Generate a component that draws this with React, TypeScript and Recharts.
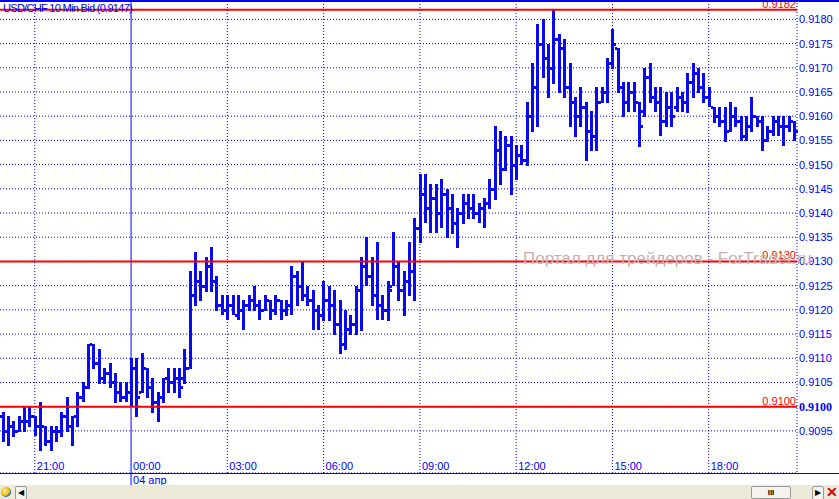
import { ComposedChart, Bar, XAxis, YAxis, CartesianGrid, ReferenceLine } from "recharts";

// USD/CHF 10 min bid bars, 03 Apr 20:00 .. 04 Apr 20:40
const opens = [
  0.9098, 0.9095, 0.9096, 0.9095, 0.9097, 0.9097, 0.9098, 0.9096, 0.9096, 0.9093,
  0.9095, 0.9095, 0.9098, 0.9096, 0.9098, 0.9102, 0.9104, 0.9113, 0.9109, 0.9106,
  0.9107, 0.9105, 0.9103, 0.9102, 0.9103, 0.9108, 0.9103, 0.9108, 0.9104, 0.9101,
  0.9102, 0.9106, 0.9105, 0.9106, 0.9106, 0.9108, 0.9123, 0.9126, 0.9125, 0.9129,
  0.9126, 0.9121, 0.912, 0.9121, 0.9119, 0.912, 0.9121, 0.9122, 0.9121, 0.912,
  0.9122, 0.912, 0.9122, 0.912, 0.9121, 0.9127, 0.9125, 0.9123, 0.9122, 0.912,
  0.9119, 0.9122, 0.9121, 0.9117, 0.9113, 0.9116, 0.9117, 0.9124, 0.9129, 0.9127,
  0.9123, 0.9121, 0.912, 0.9125, 0.9129, 0.9124, 0.9126, 0.9128, 0.9137, 0.9144,
  0.9141, 0.9143, 0.914, 0.9144, 0.9141, 0.9138, 0.914, 0.9142, 0.9141, 0.914,
  0.9141, 0.9142, 0.9145, 0.9153, 0.9149, 0.9154, 0.915, 0.9152, 0.9151, 0.916,
  0.9166, 0.9175, 0.9172, 0.917, 0.9176, 0.9174, 0.9166, 0.9163, 0.916, 0.9162,
  0.9157, 0.9156, 0.9163, 0.9165, 0.9171, 0.9174, 0.9166, 0.9163, 0.9165, 0.9163,
  0.9161, 0.9168, 0.9164, 0.9163, 0.9159, 0.9162, 0.9162, 0.9164, 0.9163, 0.9167,
  0.9169, 0.9166, 0.9164, 0.9162, 0.916, 0.9159, 0.9157, 0.916, 0.9159, 0.9156,
  0.9158, 0.916, 0.9159, 0.9155, 0.9157, 0.9159, 0.9158, 0.9158, 0.9159,
];

const highs = [
  0.9099, 0.9098, 0.9097, 0.9098, 0.91, 0.91, 0.9098, 0.9101, 0.9096, 0.9096,
  0.9096, 0.9099, 0.9102, 0.9098, 0.9103, 0.9105, 0.9113, 0.9113, 0.9112, 0.9108,
  0.9109, 0.9107, 0.9105, 0.9105, 0.911, 0.911, 0.9111, 0.9108, 0.9106, 0.9103,
  0.9106, 0.9108, 0.9108, 0.9108, 0.9112, 0.9128, 0.9132, 0.9128, 0.9131, 0.9133,
  0.9127, 0.9123, 0.9123, 0.9123, 0.9123, 0.9122, 0.9123, 0.9125, 0.9122, 0.9123,
  0.9122, 0.9123, 0.9122, 0.9122, 0.9129, 0.9128, 0.913, 0.9125, 0.9124, 0.9121,
  0.9126, 0.9125, 0.9124, 0.9122, 0.912, 0.9119, 0.9125, 0.9131, 0.9135, 0.9131,
  0.9134, 0.9123, 0.9126, 0.9136, 0.913, 0.9128, 0.9134, 0.9139, 0.9148, 0.9148,
  0.9146, 0.9146, 0.9147, 0.9145, 0.9144, 0.9141, 0.9144, 0.9144, 0.9144, 0.9142,
  0.9143, 0.9147, 0.9158, 0.9157, 0.9156, 0.9156, 0.9154, 0.9154, 0.9163, 0.9171,
  0.9179, 0.918, 0.9175, 0.9182, 0.9177, 0.9176, 0.9171, 0.9164, 0.9166, 0.9163,
  0.9161, 0.9166, 0.9166, 0.9172, 0.9178, 0.9174, 0.9167, 0.9167, 0.9167, 0.9163,
  0.917, 0.9171, 0.9166, 0.9166, 0.9165, 0.9165, 0.9166, 0.9165, 0.9169, 0.9171,
  0.917, 0.9169, 0.9166, 0.9162, 0.9162, 0.9162, 0.9163, 0.9162, 0.916, 0.916,
  0.9164, 0.916, 0.916, 0.9158, 0.916, 0.916, 0.916, 0.916, 0.9159,
];

const lows = [
  0.9093, 0.9092, 0.9094, 0.9095, 0.9095, 0.9096, 0.9094, 0.9091, 0.9092, 0.9091,
  0.9093, 0.9094, 0.9095, 0.9092, 0.9096, 0.9101, 0.9104, 0.9108, 0.9105, 0.9105,
  0.9104, 0.9101, 0.9101, 0.9101, 0.91, 0.9098, 0.9103, 0.9102, 0.9099, 0.9097,
  0.9101, 0.9103, 0.9103, 0.9102, 0.9105, 0.9108, 0.9121, 0.9122, 0.9124, 0.9124,
  0.912, 0.9119, 0.9118, 0.9119, 0.9118, 0.9116, 0.912, 0.912, 0.9118, 0.912,
  0.9118, 0.9119, 0.9118, 0.9119, 0.9119, 0.9121, 0.9122, 0.9121, 0.9116, 0.9116,
  0.9118, 0.9118, 0.9115, 0.9111, 0.9112, 0.9115, 0.9115, 0.9116, 0.9125, 0.9121,
  0.9118, 0.9118, 0.9118, 0.9125, 0.9122, 0.9119, 0.9123, 0.9122, 0.9134, 0.9138,
  0.9136, 0.9136, 0.9137, 0.9135, 0.9136, 0.9133, 0.9138, 0.9139, 0.9139, 0.9138,
  0.9137, 0.9141, 0.9143, 0.9146, 0.9149, 0.9144, 0.9147, 0.915, 0.915, 0.9157,
  0.9158, 0.9168, 0.9164, 0.9167, 0.9165, 0.9164, 0.9158, 0.9156, 0.9158, 0.9151,
  0.9153, 0.9153, 0.9163, 0.9163, 0.917, 0.9165, 0.916, 0.9161, 0.9161, 0.9154,
  0.916, 0.9163, 0.9161, 0.9156, 0.9158, 0.9158, 0.9161, 0.9161, 0.9161, 0.9164,
  0.9165, 0.9163, 0.9162, 0.9159, 0.9158, 0.9155, 0.9157, 0.9158, 0.9155, 0.9155,
  0.9157, 0.9158, 0.9153, 0.9155, 0.9156, 0.9156, 0.9154, 0.9157, 0.9155,
];

const closes = [
  0.9095, 0.9096, 0.9095, 0.9097, 0.9097, 0.9098, 0.9096, 0.9096, 0.9093, 0.9095,
  0.9095, 0.9098, 0.9096, 0.9098, 0.9102, 0.9104, 0.9113, 0.9109, 0.9106, 0.9107,
  0.9105, 0.9103, 0.9102, 0.9103, 0.9108, 0.9102, 0.9108, 0.9104, 0.9101, 0.9102,
  0.9106, 0.9105, 0.9106, 0.9104, 0.9108, 0.9123, 0.9126, 0.9125, 0.9129, 0.9126,
  0.9121, 0.912, 0.9121, 0.9119, 0.912, 0.9121, 0.9122, 0.9121, 0.912, 0.9122,
  0.912, 0.9122, 0.912, 0.9121, 0.9127, 0.9125, 0.9123, 0.9122, 0.912, 0.9119,
  0.9122, 0.9121, 0.9117, 0.9113, 0.9116, 0.9117, 0.9124, 0.9129, 0.9127, 0.9123,
  0.9121, 0.912, 0.9124, 0.9129, 0.9124, 0.9126, 0.9128, 0.9137, 0.9144, 0.9141,
  0.9143, 0.914, 0.9144, 0.9141, 0.9138, 0.914, 0.9142, 0.9141, 0.914, 0.9141,
  0.9142, 0.9145, 0.9153, 0.9149, 0.9154, 0.915, 0.9152, 0.9151, 0.916, 0.9166,
  0.9175, 0.9172, 0.917, 0.9176, 0.9174, 0.9166, 0.9163, 0.916, 0.9162, 0.9157,
  0.9156, 0.9163, 0.9165, 0.9171, 0.9175, 0.9166, 0.9163, 0.9165, 0.9163, 0.9158,
  0.9168, 0.9164, 0.9163, 0.9159, 0.9162, 0.916, 0.9164, 0.9163, 0.9167, 0.9169,
  0.9166, 0.9164, 0.9162, 0.916, 0.9159, 0.9157, 0.916, 0.9159, 0.9156, 0.9158,
  0.916, 0.9159, 0.9155, 0.9157, 0.9159, 0.9158, 0.9158, 0.9159, 0.9157,
];

// bar times, "DD HH:MM", 10 min apart starting 03 Apr 20:00
const times = opens.map((_, i) => {
  const m = 20 * 60 + i * 10;
  const dd = String(3 + Math.floor(m / 1440)).padStart(2, "0");
  const hh = String(Math.floor((m % 1440) / 60)).padStart(2, "0");
  const mm = String(m % 60).padStart(2, "0");
  return `${dd} ${hh}:${mm}`;
});

const timeGrid = ["03 21:00", "04 03:00", "04 06:00", "04 09:00", "04 12:00", "04 15:00", "04 18:00"];
const dayStart = "04 00:00";
const dayLabel = "04 апр";

const priceTicks = [
  0.9095, 0.91, 0.9105, 0.911, 0.9115, 0.912, 0.9125, 0.913, 0.9135,
  0.914, 0.9145, 0.915, 0.9155, 0.916, 0.9165, 0.917, 0.9175, 0.918,
];
const levels = [0.9182, 0.913, 0.91];

const title = "USD/CHF 10 Min Bid (0.9147)";
const watermark = "Портал для трейдеров - ForTrader.ru";

const BLUE = "#0000ff";
const BAR_BLUE = "#0a0af0";
const RED = "#ff0000";
const FONT = "'Liberation Sans', Arial, sans-serif";

const data = times.map((t, i) => ({
  t,
  open: opens[i],
  high: highs[i],
  low: lows[i],
  close: closes[i],
}));

const OhlcBar = (props: any) => {
  const { x, y, width, height, payload } = props;
  const top = Math.min(y, y + height);
  const bottom = Math.max(y, y + height);
  const span = payload.high - payload.low;
  const k = span > 0 ? (bottom - top) / span : 0;
  const yOf = (v: number) => Math.round(top + (payload.high - v) * k);
  const cx = Math.round(x + width / 2);
  return (
    <g fill={BAR_BLUE} shapeRendering="crispEdges">
      <rect x={cx - 1} y={Math.round(top)} width={3} height={Math.max(3, Math.round(bottom - top) + 1)} />
      <rect x={cx - 3} y={yOf(payload.open) - 1} width={2} height={3} />
      <rect x={cx + 2} y={yOf(payload.close) - 1} width={2} height={3} />
    </g>
  );
};

const PriceTick = ({ x, y, payload }: any) => {
  const bold = payload.value === 0.91;
  return (
    <text
      x={x}
      y={y + 4}
      fill={BLUE}
      fontSize={bold ? 12 : 11}
      fontWeight={bold ? "bold" : "normal"}
      fontFamily={bold ? "'Liberation Serif', serif" : FONT}
    >
      {payload.value.toFixed(4)}
    </text>
  );
};

const DayTick = ({ x, y }: any) => (
  <text x={x + 2} y={y - 1} fill={BLUE} fontSize={11} fontFamily={FONT}>
    {dayLabel}
  </text>
);

const TimeLabel = ({ viewBox, text }: any) => (
  <text x={viewBox.x + 2} y={viewBox.y + viewBox.height - 3} fill={BLUE} fontSize={11} fontFamily={FONT}>
    {text}
  </text>
);

const LevelLabel = ({ viewBox, text }: any) => (
  <text
    x={viewBox.x + viewBox.width - 1}
    y={viewBox.y - 2}
    textAnchor="end"
    fill={RED}
    fontSize={11}
    fontFamily={FONT}
  >
    {text}
  </text>
);

export default function App() {
  return (
    <div
      style={{
        position: "fixed",
        left: 0,
        top: 0,
        width: 839,
        height: 499,
        background: "#fff",
        overflow: "hidden",
        fontFamily: FONT,
      }}
    >
      <ComposedChart width={839} height={485} data={data} margin={{ top: 0, right: 0, bottom: 0, left: 0 }}>
        <CartesianGrid vertical={false} stroke={BLUE} strokeDasharray="1 2" />
        <XAxis
          dataKey="t"
          ticks={[dayStart]}
          interval={0}
          height={12}
          tickSize={12}
          tickMargin={0}
          axisLine={false}
          tickLine={{ stroke: BLUE }}
          tick={<DayTick />}
        />
        <YAxis
          orientation="right"
          width={42}
          type="number"
          domain={[0.90863, 0.9184]}
          allowDataOverflow
          ticks={priceTicks}
          interval={0}
          tickSize={0}
          tickMargin={2}
          tickLine={false}
          axisLine={{ stroke: BLUE, strokeDasharray: "1 2" }}
          tick={<PriceTick />}
        />
        {timeGrid.map((t) => (
          <ReferenceLine
            key={t}
            x={t}
            stroke={BLUE}
            strokeDasharray="1 2"
            label={<TimeLabel text={t.slice(3)} />}
          />
        ))}
        <ReferenceLine x={dayStart} stroke={BLUE} label={<TimeLabel text={dayStart.slice(3)} />} />
        <Bar dataKey={(d: any) => [d.low, d.high]} shape={<OhlcBar />} isAnimationActive={false} />
        {levels.map((v) => (
          <ReferenceLine
            key={v}
            y={v}
            stroke={RED}
            strokeWidth={2}
            label={<LevelLabel text={v.toFixed(4)} />}
          />
        ))}
      </ComposedChart>

      <div style={{ position: "absolute", left: 0, top: 0, width: 839, height: 2, background: BLUE }} />
      <div style={{ position: "absolute", left: 0, top: 473, width: 839, height: 1, background: BLUE }} />
      <div
        style={{
          position: "absolute",
          left: 3,
          top: 3,
          fontSize: 11,
          lineHeight: "11px",
          letterSpacing: -0.7,
          color: BLUE,
          whiteSpace: "nowrap",
        }}
      >
        {title}
      </div>
      <div
        style={{
          position: "absolute",
          left: 523,
          top: 250,
          fontSize: 17,
          lineHeight: "17px",
          color: "#c4b2b2",
          whiteSpace: "nowrap",
          pointerEvents: "none",
        }}
      >
        {watermark}
      </div>

      <div style={{ position: "absolute", left: 0, top: 485, width: 839, height: 14, background: "#ece9d8" }}>
        <div
          style={{
            position: "absolute",
            left: 1,
            top: 2,
            width: 10,
            height: 10,
            borderRadius: 5,
            background: "radial-gradient(circle at 40% 40%, #fff6a0, #f0b000 55%, #3070c0 60%)",
          }}
        />
        <div
          style={{
            position: "absolute",
            left: 15,
            top: 1,
            width: 10,
            height: 12,
            border: "1px solid #9a9a9a",
            borderRadius: 2,
            background: "#f4f3ee",
            fontSize: 8,
            lineHeight: "12px",
            textAlign: "center",
            color: "#000",
          }}
        >
          ◀
        </div>
        <div
          style={{
            position: "absolute",
            left: 751,
            top: 1,
            width: 38,
            height: 11,
            border: "1px solid #9a9a9a",
            borderRadius: 2,
            background: "#f4f3ee",
            fontSize: 8,
            lineHeight: "11px",
            textAlign: "center",
            fontWeight: "bold",
            color: "#000",
          }}
        >
          III
        </div>
        <div
          style={{
            position: "absolute",
            left: 812,
            top: 1,
            width: 10,
            height: 12,
            border: "1px solid #9a9a9a",
            borderRadius: 2,
            background: "#f4f3ee",
            fontSize: 8,
            lineHeight: "12px",
            textAlign: "center",
            color: "#000",
          }}
        >
          ▶
        </div>
        <div
          style={{
            position: "absolute",
            left: 826,
            top: 0,
            width: 13,
            height: 14,
            color: "#d00000",
            fontSize: 14,
            lineHeight: "14px",
            fontWeight: "bold",
          }}
        >
          ✕
        </div>
      </div>
    </div>
  );
}
